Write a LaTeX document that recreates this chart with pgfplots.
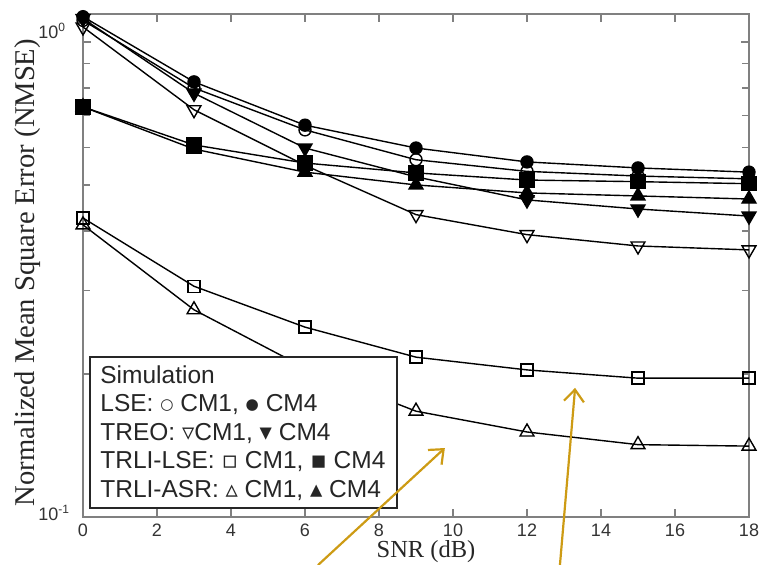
\documentclass[border=0pt]{standalone}
\usepackage{fontspec}
\setmainfont{Liberation Sans}
\newfontfamily\serif{Liberation Serif}
\newfontfamily\sym{DejaVu Sans}
\usepackage{graphicx}
\usepackage{pgfplots}
\pgfplotsset{compat=1.18}
\usetikzlibrary{arrows.meta}
\definecolor{axgray}{RGB}{128,128,128}
\definecolor{gold}{RGB}{205,155,20}
\newcommand{\legcirc}[1]{\raisebox{1.3pt}{\scalebox{0.62}{\sym #1}}}
\begin{document}
\begin{tikzpicture}
\begin{axis}[name=ax, at={(0,0)}, anchor=south west, scale only axis,
  width=333pt, height=251.5pt,
  ymode=log, xmin=0, xmax=18, ymin=0.1, ymax=1.145,
  xtick={0,2,...,18}, ytick={0.1,1},
  yticklabels={\raisebox{4pt}{10\textsuperscript{-1}}, \raisebox{11pt}{10\textsuperscript{0}}},
  axis line style={axgray, line width=0.9pt},
  tick style={axgray, line width=0.8pt},
  major tick length=4pt, minor tick length=3.5pt,
  tick align=inside,
  clip=false,
  /pgf/number format/assume math mode=true,
  ticklabel style={font=\fontsize{9}{10}\selectfont, text=black!80},
  yticklabel style={anchor=west, inner sep=0pt, xshift=-22.5pt},
  xlabel={SNR (dB)},
  xlabel style={at={(axis description cs:0.515,-0.068)}, anchor=center, font=\serif\fontsize{12.25}{14}\selectfont, text=black!85},
  ylabel={Normalized Mean Square Error (NMSE)},
  ylabel style={at={(axis description cs:-0.0826,0.486)}, anchor=center, font=\serif\fontsize{14.3}{16}\selectfont, text=black!85},
  every axis plot/.append style={black, line width=0.7pt, mark options={solid, line width=0.7pt}},
]
% LSE CM1
\addplot[mark=o, mark size=3pt] coordinates {(0,1.11) (3,0.80) (6,0.653) (9,0.565) (12,0.534) (15,0.522) (18,0.515)};
% LSE CM4
\addplot[mark=*, mark size=3pt] coordinates {(0,1.13) (3,0.824) (6,0.668) (9,0.598) (12,0.559) (15,0.543) (18,0.532)};
% TREO CM1
\addplot[mark=triangle, mark size=4pt, mark options={rotate=180}] coordinates {(0,1.075) (3,0.72) (6,0.55) (9,0.433) (12,0.393) (15,0.372) (18,0.365)};
% TREO CM4
\addplot[mark=triangle*, mark size=4pt, mark options={rotate=180}] coordinates {(0,1.12) (3,0.78) (6,0.598) (9,0.52) (12,0.465) (15,0.445) (18,0.43)};
% TRLI-LSE CM1
\addplot[mark=square, mark size=3pt] coordinates {(0,0.426) (3,0.306) (6,0.251) (9,0.217) (12,0.204) (15,0.196) (18,0.196)};
% TRLI-LSE CM4
\addplot[mark=square*, mark size=3.5pt] coordinates {(0,0.73) (3,0.607) (6,0.556) (9,0.53) (12,0.512) (15,0.508) (18,0.503)};
% TRLI-ASR CM1
\addplot[mark=triangle, mark size=4pt] coordinates {(0,0.412) (3,0.273) (6,0.206) (9,0.167) (12,0.151) (15,0.142) (18,0.141)};
% TRLI-ASR CM4
\addplot[mark=triangle*, mark size=4pt] coordinates {(0,0.73) (3,0.595) (6,0.532) (9,0.50) (12,0.481) (15,0.474) (18,0.467)};
\coordinate (a1s) at (axis cs:6.35,0.0792);
\coordinate (a1e) at (axis cs:9.78,0.1397);
\coordinate (a2s) at (axis cs:12.89,0.0792);
\coordinate (a2e) at (axis cs:13.3,0.187);
\end{axis}
% legend
\draw[black!85, line width=1pt, fill=white] ([shift={(3.5pt,4.5pt)}]ax.south west) rectangle ++(153.5pt,75.5pt);
\node[anchor=north west, align=left, inner sep=0pt, text=black!85,
  font=\fontsize{12.25}{14.25}\selectfont] at ([shift={(8.5pt,76pt)}]ax.south west)
  {Simulation\\
   LSE: \legcirc{○} CM1, \legcirc{●} CM4\\
   TREO: {\sym ▿}CM1, {\sym ▾} CM4\\
   TRLI-LSE: {\sym ▫} CM1, {\sym ▪} CM4\\
   TRLI-ASR: {\sym ▵} CM1, {\sym ▴} CM4};
% arrows
\draw[gold, line width=1.1pt, -{Straight Barb[length=6pt, width=10pt]}] (a1s) -- (a1e);
\draw[gold, line width=1.1pt, -{Straight Barb[length=6pt, width=10pt]}] (a2s) -- (a2e);
\pgfresetboundingbox
\path[use as bounding box] ([shift={(-41.5pt,-24pt)}]ax.south west) rectangle ([shift={(341pt,258.5pt)}]ax.south west);
\end{tikzpicture}
\end{document}
